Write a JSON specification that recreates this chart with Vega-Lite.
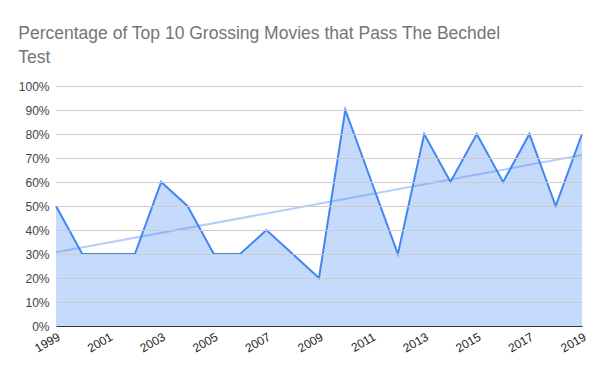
{
  "$schema": "https://vega.github.io/schema/vega-lite/v6.json",
  "width": 600,
  "height": 371,
  "autosize": {"type": "fit", "contains": "padding"},
  "padding": {"left": 18, "top": 24, "right": 12, "bottom": 17},
  "title": {
    "text": ["Percentage of Top 10 Grossing Movies that Pass The Bechdel", "Test"],
    "anchor": "start",
    "frame": "bounds",
    "font": "Liberation Sans",
    "fontSize": 17.5,
    "fontWeight": "normal",
    "color": "#757575",
    "lineHeight": 24,
    "offset": 14
  },
  "config": {
    "view": {"stroke": null},
    "font": "Liberation Sans",
    "axis": {"labelFont": "Liberation Sans", "labelFontSize": 12, "labelColor": "#222222"}
  },
  "data": {
    "values": [
      {"year": 1999, "pct": 0.5},
      {"year": 2000, "pct": 0.3},
      {"year": 2001, "pct": 0.3},
      {"year": 2002, "pct": 0.3},
      {"year": 2003, "pct": 0.6},
      {"year": 2004, "pct": 0.5},
      {"year": 2005, "pct": 0.3},
      {"year": 2006, "pct": 0.3},
      {"year": 2007, "pct": 0.4},
      {"year": 2008, "pct": 0.3},
      {"year": 2009, "pct": 0.2},
      {"year": 2010, "pct": 0.9},
      {"year": 2011, "pct": 0.6},
      {"year": 2012, "pct": 0.3},
      {"year": 2013, "pct": 0.8},
      {"year": 2014, "pct": 0.6},
      {"year": 2015, "pct": 0.8},
      {"year": 2016, "pct": 0.6},
      {"year": 2017, "pct": 0.8},
      {"year": 2018, "pct": 0.5},
      {"year": 2019, "pct": 0.8}
    ]
  },
  "encoding": {
    "x": {
      "field": "year",
      "type": "quantitative",
      "scale": {"domain": [1999, 2019], "nice": false, "zero": false},
      "axis": {
        "title": null,
        "format": "d",
        "values": [1999, 2001, 2003, 2005, 2007, 2009, 2011, 2013, 2015, 2017, 2019],
        "labelAngle": -30,
        "labelAlign": "right",
        "labelBaseline": "top",
        "labelPadding": 5,
        "grid": false,
        "ticks": false,
        "domainColor": "#333333",
        "domainWidth": 1.2,
        "labelFlush": false,
        "labelOverlap": false,
        "zindex": 2
      }
    },
    "y": {
      "field": "pct",
      "type": "quantitative",
      "scale": {"domain": [0, 1], "nice": false},
      "axis": {
        "title": null,
        "format": ".0%",
        "values": [0, 0.1, 0.2, 0.3, 0.4, 0.5, 0.6, 0.7, 0.8, 0.9, 1],
        "domain": false,
        "ticks": false,
        "gridColor": "#cccccc",
        "gridWidth": 1,
        "labelPadding": 7,
        "labelColor": "#444444",
        "zindex": 1
      }
    }
  },
  "layer": [
    {
      "mark": {"type": "area", "color": "#c6dafc", "opacity": 1}
    },
    {
      "mark": {"type": "line", "color": "#4285f4", "strokeWidth": 2}
    },
    {
      "transform": [{"regression": "pct", "on": "year"}],
      "mark": {"type": "line", "color": "#4285f4", "strokeWidth": 2, "opacity": 0.4}
    }
  ]
}
